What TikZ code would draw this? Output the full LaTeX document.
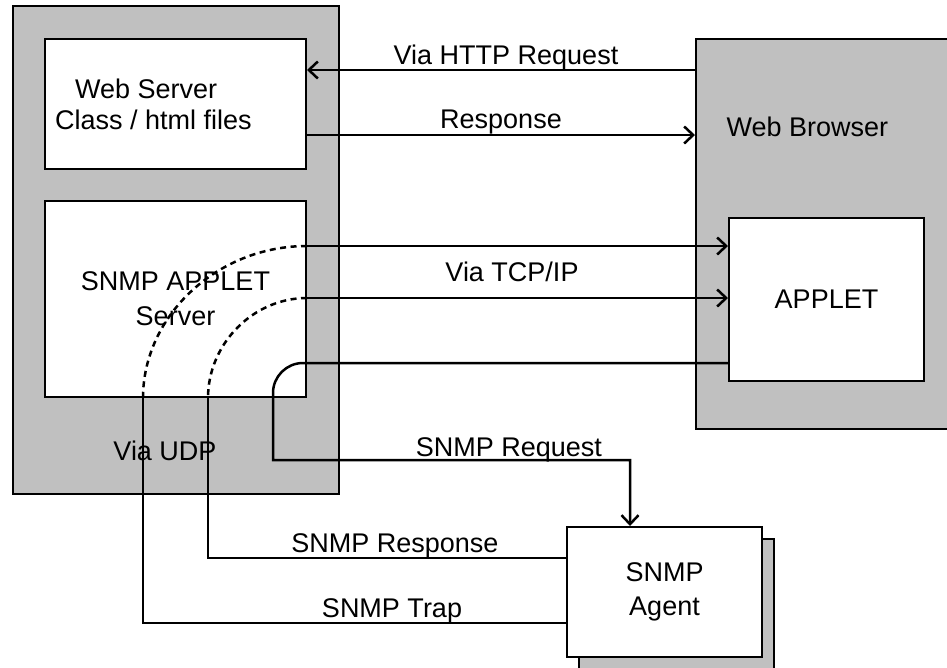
\documentclass[tikz,border=0pt]{standalone}
\usepackage{fontspec}
\setmainfont{Liberation Sans}
\usetikzlibrary{positioning,arrows.meta}
\definecolor{panelgray}{RGB}{192,192,192}

\begin{document}
\begin{tikzpicture}[x=1pt,y=-1pt,font=\fontsize{27}{31}\selectfont,
    panel/.style={draw,line width=2pt,fill=panelgray,inner sep=0pt,anchor=north west},
    box/.style={draw,line width=2pt,fill=white,inner sep=0pt,anchor=north west,align=center},
    wire/.style={line width=2.5pt},
    arr/.style={wire,-{Straight Barb[length=9pt,width=17pt,line width=2.5pt]}},
    udp/.style={wire,dash pattern=on 6pt off 4.5pt}]
  \useasboundingbox (0,0) rectangle (947,667);

  % server side
  \node[panel,minimum width=326pt,minimum height=488pt] (server) at (12,5) {};
  \node[box,minimum width=261pt,minimum height=130pt] (websrv) at (44,38) {};
  \node[align=left,anchor=west,inner sep=0pt] (websrvtxt) at (55,104) {\hspace*{20pt}Web Server\\Class / html files};
  \node[box,minimum width=261pt,minimum height=196pt] (appsrv) at (44,200) {SNMP APPLET\\[4pt]Server};
  \node[anchor=base] (udplbl) at (165,460) {Via UDP};

  % browser side
  \node[panel,minimum width=260pt,minimum height=390pt] (browser) at (695,38) {};
  \node[anchor=base west] (browsertxt) at (723,136) {Web Browser};
  \node[box,minimum width=195pt,minimum height=163pt] (applet) at (728,217) {APPLET};

  % agent
  \node[panel,minimum width=195pt,minimum height=135pt] (shadow) at (578,538) {};
  \node[box,minimum width=195pt,minimum height=130pt] (agent) at (566,526) {SNMP\\[3pt]Agent};

  \coordinate (trapA) at (appsrv.east |- 0,246);
  \coordinate (trapB) at (143,0 |- appsrv.south);
  \coordinate (trapC) at (143,623);
  \coordinate (respA) at (appsrv.east |- 0,298);
  \coordinate (respB) at (208,0 |- appsrv.south);
  \coordinate (respC) at (208,558);
  \coordinate (reqA) at (303,363);
  \coordinate (reqB) at (273,393);
  \coordinate (reqC) at (273,460);
  \coordinate (reqD) at (630,460);

  \draw[arr] (browser.west |- 0,70) -- (websrv.east |- 0,70);
  \draw[arr] (websrv.east |- 0,135) -- (browser.west |- 0,135);
  \draw[udp] (trapA) .. controls +(-90,0) and +(0,-82) .. (trapB);
  \draw[udp] (respA) .. controls +(-54,0) and +(0,-54) .. (respB);
  \draw[arr] (trapA) -- (applet.west |- trapA);
  \draw[arr] (respA) -- (applet.west |- respA);
  \draw[wire] (trapB) -- (trapC) -- (agent.west |- trapC);
  \draw[wire] (respB) -- (respC) -- (agent.west |- respC);
  \draw[arr] (applet.west |- reqA) -- (reqA) .. controls +(-16.5,0) and +(0,-16.5) .. (reqB)
    -- (reqC) -- (reqD) -- (reqD |- agent.north);

  % labels
  \node[anchor=base] (httplbl) at (506,64) {Via HTTP Request};
  \node[anchor=base] (resplbl) at (501,128) {Response};
  \node[anchor=base] (tcplbl) at (512,281) {Via TCP/IP};
  \node[anchor=base] (reqlbl) at (509,456) {SNMP Request};
  \node[anchor=base] (snmpresplbl) at (395,552) {SNMP Response};
  \node[anchor=base] (traplbl) at (392,617) {SNMP Trap};
\end{tikzpicture}
\end{document}
